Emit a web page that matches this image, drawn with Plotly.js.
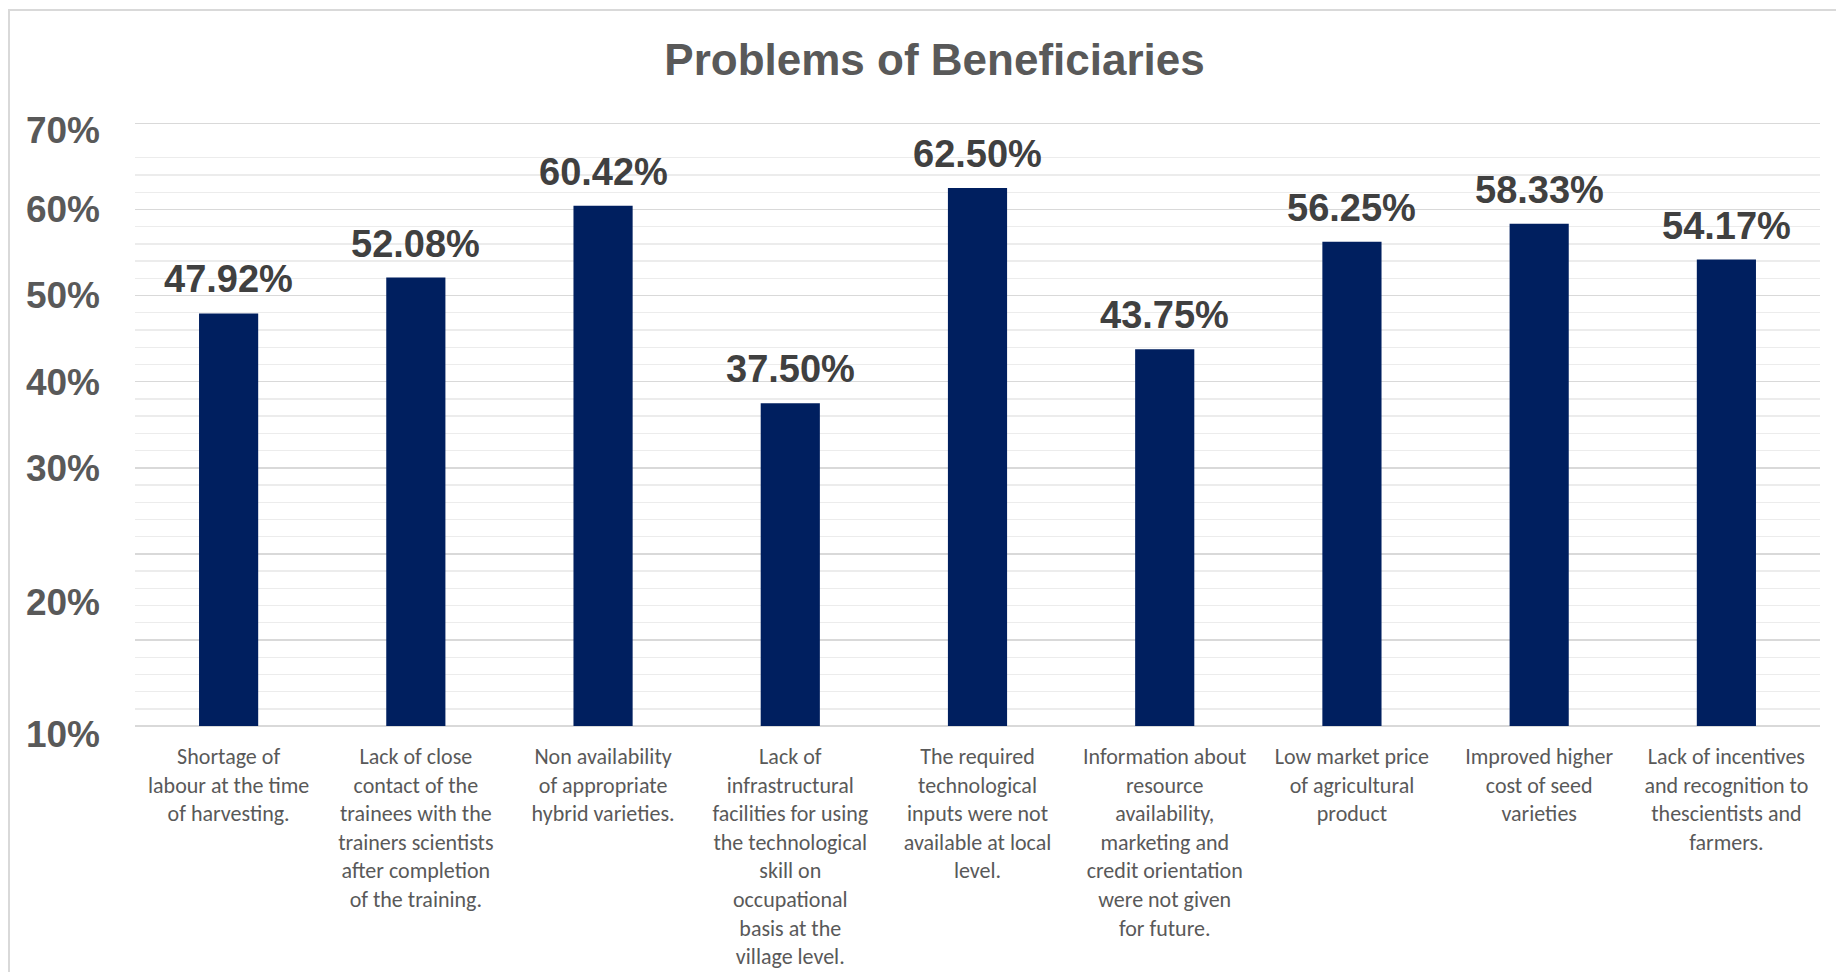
<!DOCTYPE html>
<html>
<head>
<meta charset="utf-8">
<script src="https://cdn.plot.ly/plotly-3.0.1.min.js"></script>
<style>
  html, body { margin: 0; padding: 0; background: #ffffff; }
  #frame { position: absolute; left: 8px; top: 9px; width: 1828px; height: 963px;
           border-left: 2px solid #d9d9d9; border-top: 2px solid #d9d9d9; box-sizing: border-box; }
  #chart { position: absolute; left: 0; top: 0; width: 1836px; height: 972px; }
</style>
</head>
<body>
<div id="frame"></div>
<div id="chart"></div>
<script>
// ---- data ----
const categories = [
  "Shortage of<br>labour at the time<br>of harvesting.",
  "Lack of close<br>contact of the<br>trainees with the<br>trainers scientists<br>after completion<br>of the training.",
  "Non availability<br>of appropriate<br>hybrid varieties.",
  "Lack of<br>infrastructural<br>facilities for using<br>the technological<br>skill on<br>occupational<br>basis at the<br>village level.",
  "The required<br>technological<br>inputs were not<br>available at local<br>level.",
  "Information about<br>resource<br>availability,<br>marketing and<br>credit orientation<br>were not given<br>for future.",
  "Low market price<br>of agricultural<br>product",
  "Improved higher<br>cost of seed<br>varieties",
  "Lack of incentives<br>and recognition to<br>thescientists and<br>farmers."
];
const values = [47.92, 52.08, 60.42, 37.50, 62.50, 43.75, 56.25, 58.33, 54.17];

// y tick labels as printed in the source picture (labels sit at these axis values)
const yTickText = ["70%", "60%", "50%", "40%", "30%", "20%", "10%"];
const yTickPos  = [69.2, 60, 50, 40, 30, 14.4, -0.93];
// gridlines
const majorGrid = [0, 10, 20, 30, 40, 50, 60, 70];
const minorGrid = [2,4,6,8,12,14,16,18,22,24,26,28,32,34,36,38,42,44,46,48,52,54,56,58,62,64,66];

const yRange = [-1.5, 70.5];

const barColor = "#001F5F";
const boldFont = "Liberation Sans, Arial, sans-serif";
const catFont = "Carlito, Lato, sans-serif";

const traces = [
  {
    type: "bar",
    x: categories,
    y: values,
    marker: { color: barColor },
    hoverinfo: "skip",
    showlegend: false,
    yaxis: "y"
  },
  {
    type: "scatter",
    x: categories,
    y: values,
    mode: "none",
    hoverinfo: "skip",
    showlegend: false,
    yaxis: "y2"
  }
];

const annotations = values.map((v, i) => ({
  x: categories[i],
  y: v,
  xref: "x",
  yref: "y",
  text: v.toFixed(2) + "%",
  showarrow: false,
  yanchor: "bottom",
  yshift: 11,
  font: { family: boldFont, size: 38, color: "#404040", weight: "bold" }
}));

const layout = {
  width: 1836,
  height: 972,
  paper_bgcolor: "rgba(0,0,0,0)",
  plot_bgcolor: "rgba(0,0,0,0)",
  margin: { l: 135, r: 16, t: 119, b: 233.4, pad: 0 },
  bargap: 0.684,
  title: {
    text: "<b>Problems of Beneficiaries</b>",
    font: { family: boldFont, size: 44, color: "#595959" },
    x: 0.509, xref: "container", xanchor: "center",
    y: 0.939, yref: "container", yanchor: "middle"
  },
  xaxis: {
    type: "category",
    showgrid: false,
    showline: false,
    zeroline: false,
    ticks: "",
    tickangle: 0,
    ticklabelstandoff: 2,
    tickfont: { family: catFont, size: 22, color: "#595959" }
  },
  yaxis: {
    range: yRange,
    tickmode: "array",
    tickvals: majorGrid,
    showticklabels: false,
    showgrid: true,
    gridcolor: "#d9d9d9",
    gridwidth: 1.6,
    zeroline: false,
    showline: false,
    ticks: "",
    minor: {
      tickmode: "array",
      tickvals: minorGrid,
      showgrid: true,
      gridcolor: "#ececec",
      gridwidth: 1.3,
      ticks: ""
    }
  },
  yaxis2: {
    overlaying: "y",
    side: "left",
    anchor: "x",
    range: yRange,
    tickmode: "array",
    tickvals: yTickPos,
    ticktext: yTickText,
    showgrid: false,
    zeroline: false,
    showline: false,
    ticks: "",
    ticklabelstandoff: 34,
    tickfont: { family: boldFont, size: 37, color: "#595959", weight: "bold" }
  },
  annotations: annotations,
  hovermode: false
};

Plotly.newPlot("chart", traces, layout, { displayModeBar: false, staticPlot: true });
</script>
</body>
</html>
